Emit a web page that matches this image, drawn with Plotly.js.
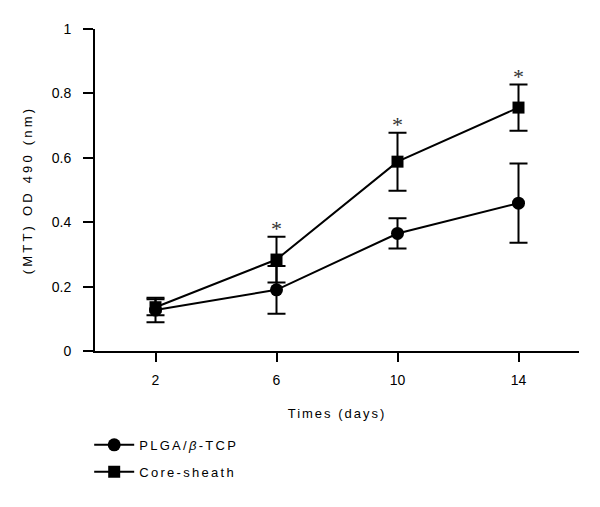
<!DOCTYPE html>
<html><head><meta charset="utf-8">
<script src="https://cdn.plot.ly/plotly-3.0.1.min.js"></script>
<style>
body{margin:0;background:#fff;}
.legendtext{letter-spacing:2.3px;}
.g-xtitle text{letter-spacing:2px;}
.g-ytitle text{letter-spacing:3.2px;}
</style></head><body>
<div id="chart" style="width:600px;height:507px;"></div>
<script>
const days = [2, 6, 10, 14];
const plgaMean = [0.127, 0.190, 0.365, 0.459];
const plgaErr = [0.038, 0.074, 0.047, 0.123];
const coreMean = [0.136, 0.284, 0.588, 0.756];
const coreErr = [0.025, 0.071, 0.090, 0.072];
const sigIdx = [1, 2, 3];
const yTicks = [0, 0.2, 0.4, 0.6, 0.8, 1];
const yTickText = ['0', '0.2', '0.4', '0.6', '0.8', '1'];

const traces = [
  {
    x: days, y: plgaMean, name: 'PLGA/<i>β</i>-TCP', type: 'scatter', mode: 'lines+markers',
    legendgroup: 'a',
    line: {color: '#000', width: 2},
    marker: {symbol: 'circle', size: 13, color: '#000'},
    error_y: {type: 'data', array: plgaErr, visible: true, color: '#000', thickness: 2, width: 9}
  },
  {
    x: days, y: coreMean, name: 'Core-sheath', type: 'scatter', mode: 'lines+markers',
    legendgroup: 'b',
    line: {color: '#000', width: 2},
    marker: {symbol: 'square', size: 12, color: '#000'},
    error_y: {type: 'data', array: coreErr, visible: true, color: '#000', thickness: 2, width: 9}
  }
];

const annotations = sigIdx.map(i => ({
  x: days[i], y: coreMean[i] + coreErr[i] + 0.035, xref: 'x', yref: 'y',
  text: '*', showarrow: false, yanchor: 'middle', yshift: -3,
  font: {family: 'Liberation Serif, serif', size: 22, color: '#333'}
}));

const layout = {
  width: 600, height: 507,
  margin: {l: 95, r: 21, t: 29, b: 156},
  paper_bgcolor: '#fff', plot_bgcolor: '#fff',
  font: {family: 'Liberation Sans, Arial, sans-serif', color: '#000'},
  showlegend: true,
  legend: {x: -0.012, y: -0.245, xanchor: 'left', yanchor: 'top', traceorder: 'grouped', tracegroupgap: 7,
           itemwidth: 40,
           font: {size: 13, color: '#000'}, bgcolor: 'rgba(0,0,0,0)'},
  xaxis: {
    range: [0, 16], tickvals: days, ticktext: days.map(String),
    showline: true, linecolor: '#000', linewidth: 2, showgrid: false, zeroline: false,
    ticks: 'outside', ticklen: 9, tickwidth: 2, tickcolor: '#000',
    tickfont: {size: 14, color: '#000'}, ticklabelstandoff: 6,
    title: {text: 'Times (days)', font: {size: 13, color: '#000'}, standoff: 22}
  },
  yaxis: {
    range: [0, 1], tickvals: yTicks, ticktext: yTickText,
    showline: true, linecolor: '#000', linewidth: 2, showgrid: false, zeroline: false,
    ticks: 'outside', ticklen: 10, tickwidth: 2, tickcolor: '#000',
    tickfont: {size: 14, color: '#000'}, ticklabelstandoff: 9,
    title: {text: '(MTT) OD 490 (nm)', font: {size: 13, color: '#000'}, standoff: 16}
  },
  annotations: annotations
};

Plotly.newPlot('chart', traces, layout, {displayModeBar: false, staticPlot: true});
</script>
</body></html>
